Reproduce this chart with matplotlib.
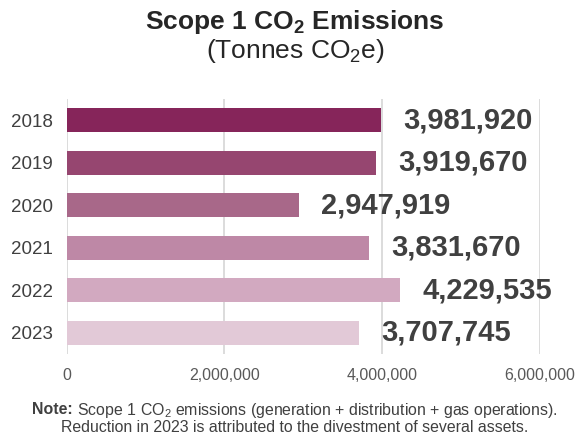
import matplotlib
matplotlib.use("Agg")
import matplotlib.pyplot as plt
from matplotlib.ticker import FuncFormatter

plt.rcParams['font.family'] = ['Liberation Sans', 'DejaVu Sans']
plt.rcParams['mathtext.fontset'] = 'custom'
plt.rcParams['mathtext.rm'] = 'Liberation Sans'
plt.rcParams['mathtext.bf'] = 'Liberation Sans:bold'

years = ["2018", "2019", "2020", "2021", "2022", "2023"]
values = [3981920, 3919670, 2947919, 3831670, 4229535, 3707745]
colors = ["#86255a", "#964670", "#a86889", "#be88a6", "#d2a9c0", "#e2c9d7"]
xticks = [0, 2000000, 4000000, 6000000]

W, H = 577, 441
fig = plt.figure(figsize=(W / 100, H / 100), dpi=100)
ax = fig.add_axes([0.1153, 0.1973, 0.8201, 0.5782])

ypos = list(range(len(years)))
ax.barh(ypos, values, height=0.566, color=colors, zorder=3)
ax.set_ylim(5.5, -0.5)
ax.set_xlim(0, 6000000)
ax.set_yticks(ypos)
ax.set_yticklabels(years)
ax.set_xticks(xticks)
ax.xaxis.set_major_formatter(FuncFormatter(lambda v, p: f"{int(v):,}"))
ax.grid(axis='x', color='#d9d9d9', linewidth=1.3, zorder=0)
for s in ax.spines.values():
    s.set_visible(False)
ax.tick_params(axis='both', length=0, colors='#595959')
ax.tick_params(axis='y', pad=9.7, labelsize=13.5, labelcolor='#404040')
ax.tick_params(axis='x', pad=10, labelsize=11.5)

for y, v in zip(ypos, values):
    ax.annotate(f"{v:,}", xy=(v, y), xytext=(16, 0), textcoords='offset points',
                ha='left', va='center', fontsize=21, fontweight='bold', color='#404040')

cx = 295 / W
fig.text(cx, 1 - 29 / H, r"Scope 1 CO$_\mathbf{2}$ Emissions", ha='center', va='baseline',
         fontsize=19, fontweight='bold', color='#262626')
fig.text(cx, 1 - 58 / H, r"(Tonnes CO$_\mathrm{2}$e)", ha='center', va='baseline',
         fontsize=19, color='#262626')

# Note with bold prefix, centered
fig.canvas.draw()
r = fig.canvas.get_renderer()
fs = 11.4
y1 = 1 - 410 / H
t_bold = fig.text(0, y1, "Note:", ha='left', va='center', fontsize=fs,
                  fontweight='bold', color='#404040')
t_rest = fig.text(0, y1, r" Scope 1 CO$_\mathrm{2}$ emissions (generation + distribution + gas operations).",
                  ha='left', va='center', fontsize=fs, color='#404040')
wb = t_bold.get_window_extent(r).width
wr = t_rest.get_window_extent(r).width
total = wb + wr
x0 = 295 - total / 2
t_bold.set_x(x0 / W)
t_rest.set_x((x0 + wb) / W)
fig.text(cx, 1 - 427 / H, "Reduction in 2023 is attributed to the divestment of several assets.",
         ha='center', va='center', fontsize=fs, color='#404040')

fig.savefig("out.png", dpi=100)
